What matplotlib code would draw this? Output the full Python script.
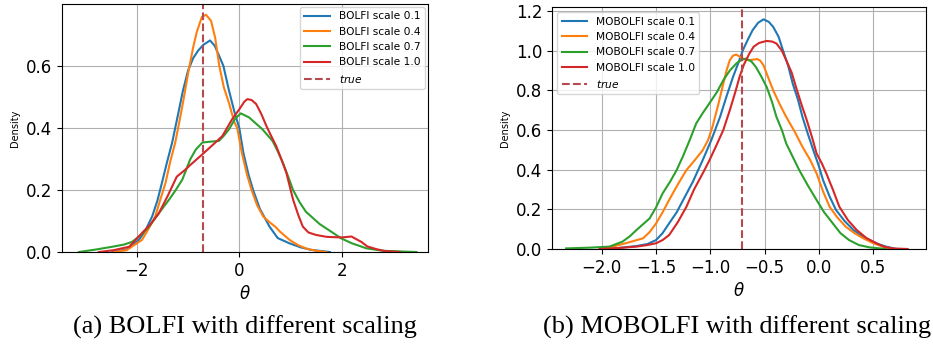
import numpy as np
from matplotlib import pyplot as plt

true_theta = -0.71
scales = ['0.1', '0.4', '0.7', '1.0']
colors = ['tab:blue', 'tab:orange', 'tab:green', 'tab:red']

# BOLFI densities
bolfi_x = [
    [-2.48, -2.2, -1.96, -1.83, -1.7, -1.6, -1.51, -1.41, -1.31, -1.2, -1.1, -1.0, -0.9, -0.8, -0.7, -0.57,
     -0.48, -0.4, -0.31, -0.2, -0.1, 0.0, 0.08, 0.18, 0.27, 0.4, 0.59, 0.75, 0.98, 1.2, 1.4, 1.77],
    [-2.45, -2.2, -1.9, -1.77, -1.64, -1.54, -1.44, -1.35, -1.25, -1.17, -1.09, -1.0, -0.9, -0.83, -0.73, -0.65,
     -0.55, -0.47, -0.39, -0.3, -0.2, -0.1, -0.04, 0.05, 0.15, 0.24, 0.35, 0.47, 0.6, 0.7, 0.8, 0.99, 1.15, 1.31, 1.5, 1.7],
    [-3.13, -2.8, -2.48, -2.25, -2.09, -1.92, -1.76, -1.57, -1.37, -1.24, -1.11, -0.96, -0.85, -0.72, -0.55, -0.4,
     -0.3, -0.2, -0.08, 0.03, 0.19, 0.32, 0.45, 0.65, 0.75, 0.85, 0.95, 1.05, 1.18, 1.3, 1.57, 1.8, 1.99, 2.2,
     2.48, 2.8, 3.46],
    [-2.74, -2.45, -2.15, -1.9, -1.73, -1.57, -1.4, -1.22, -1.05, -0.96, -0.72, -0.52, -0.33, -0.14, 0.0, 0.1,
     0.16, 0.24, 0.33, 0.43, 0.53, 0.62, 0.72, 0.82, 0.92, 1.05, 1.15, 1.24, 1.35, 1.5, 1.7, 1.83, 2.0, 2.19,
     2.3, 2.38, 2.5, 2.68, 2.85, 3.13],
]
bolfi_y = [
    [0.0, 0.008, 0.039, 0.07, 0.115, 0.165, 0.223, 0.29, 0.353, 0.44, 0.52, 0.585, 0.625, 0.65, 0.668, 0.682,
     0.665, 0.635, 0.6, 0.52, 0.455, 0.4, 0.32, 0.25, 0.2, 0.14, 0.082, 0.045, 0.028, 0.015, 0.007, 0.0],
    [0.0, 0.006, 0.039, 0.075, 0.115, 0.17, 0.223, 0.29, 0.353, 0.42, 0.49, 0.575, 0.66, 0.709, 0.758, 0.765,
     0.745, 0.69, 0.6, 0.53, 0.48, 0.42, 0.4, 0.32, 0.25, 0.2, 0.15, 0.114, 0.095, 0.082, 0.065, 0.038, 0.022,
     0.011, 0.004, 0.0],
    [0.0, 0.008, 0.017, 0.024, 0.033, 0.055, 0.082, 0.125, 0.169, 0.2, 0.234, 0.298, 0.33, 0.353, 0.356, 0.358,
     0.375, 0.396, 0.43, 0.447, 0.434, 0.415, 0.396, 0.358, 0.325, 0.288, 0.245, 0.2, 0.16, 0.13, 0.09, 0.065,
     0.044, 0.028, 0.012, 0.004, 0.0],
    [0.0, 0.006, 0.017, 0.061, 0.09, 0.125, 0.18, 0.243, 0.266, 0.28, 0.315, 0.345, 0.374, 0.428, 0.46, 0.485,
     0.493, 0.49, 0.477, 0.445, 0.406, 0.375, 0.342, 0.3, 0.255, 0.169, 0.12, 0.082, 0.063, 0.055, 0.049, 0.048,
     0.047, 0.05, 0.04, 0.033, 0.018, 0.009, 0.003, 0.0],
]

# MOBOLFI densities
mobolfi_x = [
    [-2.02, -1.85, -1.68, -1.58, -1.5, -1.44, -1.38, -1.31, -1.25, -1.16, -1.07, -0.99, -0.91, -0.85, -0.79,
     -0.74, -0.7, -0.65, -0.61, -0.56, -0.51, -0.46, -0.42, -0.37, -0.33, -0.28, -0.24, -0.19, -0.15, -0.1,
     -0.05, 0.0, 0.04, 0.1, 0.16, 0.24, 0.32, 0.4, 0.47, 0.55, 0.62, 0.72],
    [-1.99, -1.78, -1.62, -1.56, -1.5, -1.44, -1.38, -1.3, -1.22, -1.14, -1.07, -1.02, -0.98, -0.93, -0.88,
     -0.85, -0.82, -0.79, -0.76, -0.73, -0.7, -0.64, -0.6, -0.57, -0.54, -0.51, -0.47, -0.42, -0.36, -0.3,
     -0.22, -0.15, -0.08, -0.02, 0.04, 0.1, 0.17, 0.25, 0.33, 0.41, 0.5, 0.59, 0.68],
    [-2.33, -2.1, -1.93, -1.81, -1.74, -1.68, -1.62, -1.56, -1.5, -1.44, -1.37, -1.31, -1.25, -1.19, -1.13,
     -1.07, -1.01, -0.94, -0.88, -0.82, -0.76, -0.71, -0.67, -0.62, -0.58, -0.53, -0.48, -0.43, -0.39, -0.34,
     -0.3, -0.24, -0.18, -0.1, -0.02, 0.05, 0.13, 0.2, 0.28, 0.37, 0.47, 0.62],
    [-2.02, -1.85, -1.68, -1.58, -1.5, -1.44, -1.38, -1.3, -1.22, -1.15, -1.07, -1.01, -0.95, -0.88, -0.82,
     -0.77, -0.73, -0.69, -0.64, -0.6, -0.55, -0.48, -0.43, -0.39, -0.34, -0.3, -0.25, -0.21, -0.16, -0.11,
     -0.06, -0.02, 0.03, 0.07, 0.13, 0.19, 0.27, 0.35, 0.44, 0.53, 0.6, 0.68, 0.82],
]
mobolfi_y = [
    [0.0, 0.005, 0.015, 0.025, 0.045, 0.08, 0.129, 0.185, 0.247, 0.34, 0.448, 0.55, 0.666, 0.77, 0.868,
     0.94, 1.002, 1.06, 1.103, 1.14, 1.158, 1.145, 1.12, 1.07, 1.002, 0.92, 0.834, 0.75, 0.666, 0.58,
     0.498, 0.42, 0.347, 0.265, 0.196, 0.14, 0.096, 0.065, 0.045, 0.025, 0.012, 0.0],
    [0.0, 0.029, 0.054, 0.085, 0.129, 0.185, 0.247, 0.325, 0.398, 0.45, 0.498, 0.55, 0.616, 0.72, 0.834,
     0.9, 0.952, 0.975, 0.98, 0.97, 0.96, 0.952, 0.955, 0.958, 0.95, 0.927, 0.87, 0.8, 0.73, 0.666,
     0.59, 0.515, 0.45, 0.381, 0.29, 0.213, 0.16, 0.112, 0.08, 0.054, 0.03, 0.012, 0.0],
    [0.003, 0.007, 0.012, 0.037, 0.065, 0.096, 0.125, 0.154, 0.21, 0.28, 0.34, 0.398, 0.47, 0.549, 0.633,
     0.685, 0.733, 0.79, 0.851, 0.9, 0.935, 0.955, 0.96, 0.945, 0.918, 0.87, 0.817, 0.74, 0.666, 0.6,
     0.532, 0.465, 0.398, 0.32, 0.247, 0.185, 0.129, 0.08, 0.045, 0.02, 0.008, 0.0],
    [0.0, 0.005, 0.012, 0.02, 0.029, 0.045, 0.07, 0.135, 0.213, 0.3, 0.381, 0.445, 0.515, 0.6, 0.7,
     0.79, 0.868, 0.93, 0.985, 1.02, 1.039, 1.049, 1.046, 1.036, 1.0, 0.952, 0.89, 0.817, 0.73, 0.649,
     0.56, 0.482, 0.43, 0.381, 0.3, 0.213, 0.145, 0.096, 0.055, 0.029, 0.012, 0.003, 0.0],
]

fig = plt.figure(figsize=(9.33, 3.51), dpi=100)
ax1 = fig.add_axes([0.0665, 0.282, 0.392, 0.707])
ax2 = fig.add_axes([0.5916, 0.2906, 0.401, 0.6894])

for ax, name, xs, ys in [(ax1, 'BOLFI', bolfi_x, bolfi_y), (ax2, 'MOBOLFI', mobolfi_x, mobolfi_y)]:
    for x, y, s, c in zip(xs, ys, scales, colors):
        ax.plot(x, y, color=c, lw=1.5, label=name + ' scale ' + s)
    ax.axvline(true_theta, color='#b5494d', ls='--', lw=1.5, label='$true$')
    ax.grid(True, color='#b0b0b0', lw=0.8)
    ax.set_axisbelow(True)
    ax.set_ylabel('Density', fontsize=7)
    ax.set_xlabel(r'$\theta$', fontsize=12)
    ax.tick_params(labelsize=12)

ax1.set_xlim(-3.46, 3.68)
ax1.set_ylim(0, 0.80)
ax1.set_yticks([0.0, 0.2, 0.4, 0.6])
ax1.legend(loc='upper right', fontsize=7.7, handlelength=2.4, borderaxespad=0.3)

ax2.set_xlim(-2.46, 0.99)
ax2.set_ylim(0, 1.22)
ax2.set_xticks([-2.0, -1.5, -1.0, -0.5, 0.0, 0.5])
ax2.legend(loc='upper left', fontsize=7.7, handlelength=2.4)

fig.text(0.263, 0.068, '(a) BOLFI with different scaling', family='Liberation Serif', fontsize=19, ha='center', va='center')
fig.text(0.790, 0.068, '(b) MOBOLFI with different scaling', family='Liberation Serif', fontsize=19, ha='center', va='center')

plt.savefig('out.png', dpi=100)
